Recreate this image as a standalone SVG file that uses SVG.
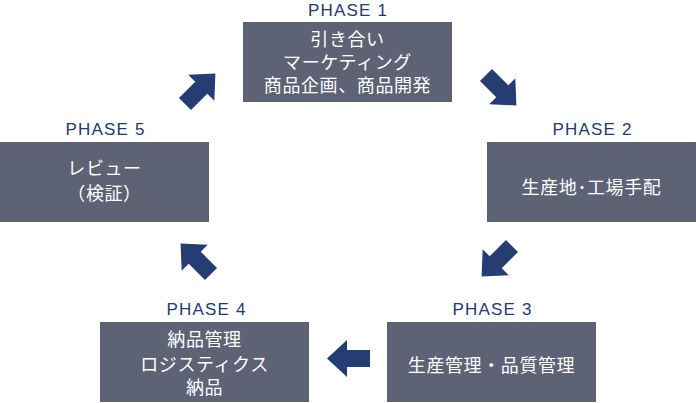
<svg xmlns="http://www.w3.org/2000/svg" width="696" height="403" viewBox="0 0 696 403">
<style>
.box{fill:#5d6275}
.ph{font-family:"Liberation Sans","Noto Sans CJK JP",sans-serif;font-size:17px;fill:#24396e;text-anchor:middle;letter-spacing:1.2px}
.t{font-family:"Noto Sans CJK JP",sans-serif;font-size:18px;fill:#ffffff;text-anchor:middle;letter-spacing:0.6px}
.arr{fill:#253d73}
</style>
<defs>
<path id="arr" d="M0,-8.5 H23 V-18.5 L43,0 L23,18.5 V8.5 H0 Z"/>
</defs>
<g id="phase1">
<text class="ph" x="348" y="16">PHASE 1</text>
<rect class="box" x="243" y="22" width="209" height="80"/>
<text class="t" x="347.5" y="46">引き合い</text>
<text class="t" x="347.5" y="69">マーケティング</text>
<text class="t" x="347.5" y="92">商品企画、商品開発</text>
</g>
<g id="phase2">
<text class="ph" x="592.5" y="135">PHASE 2</text>
<rect class="box" x="487" y="142" width="209" height="80"/>
<text class="t" x="591.5" y="194">生産地･工場手配</text>
</g>
<g id="phase3">
<text class="ph" x="492.5" y="315">PHASE 3</text>
<rect class="box" x="387" y="322" width="209" height="80"/>
<text class="t" x="491.5" y="372">生産管理・品質管理</text>
</g>
<g id="phase4">
<text class="ph" x="206.5" y="315">PHASE 4</text>
<rect class="box" x="100" y="322" width="209" height="80"/>
<text class="t" x="204.5" y="346">納品管理</text>
<text class="t" x="204.5" y="371">ロジスティクス</text>
<text class="t" x="204.5" y="394">納品</text>
</g>
<g id="phase5">
<text class="ph" x="105.5" y="135">PHASE 5</text>
<rect class="box" x="0" y="142" width="209" height="80"/>
<text class="t" x="104.5" y="175">レビュー</text>
<text class="t" x="104.5" y="200">（検証）</text>
</g>
<g id="connectors" class="arr">
<use href="#arr" transform="translate(486,75) rotate(45)"/>
<use href="#arr" transform="translate(512,246) rotate(135)"/>
<use href="#arr" transform="translate(370,358.5) rotate(180)"/>
<use href="#arr" transform="translate(211,274) rotate(-135)"/>
<use href="#arr" transform="translate(185,104) rotate(-45)"/>
</g>
</svg>
